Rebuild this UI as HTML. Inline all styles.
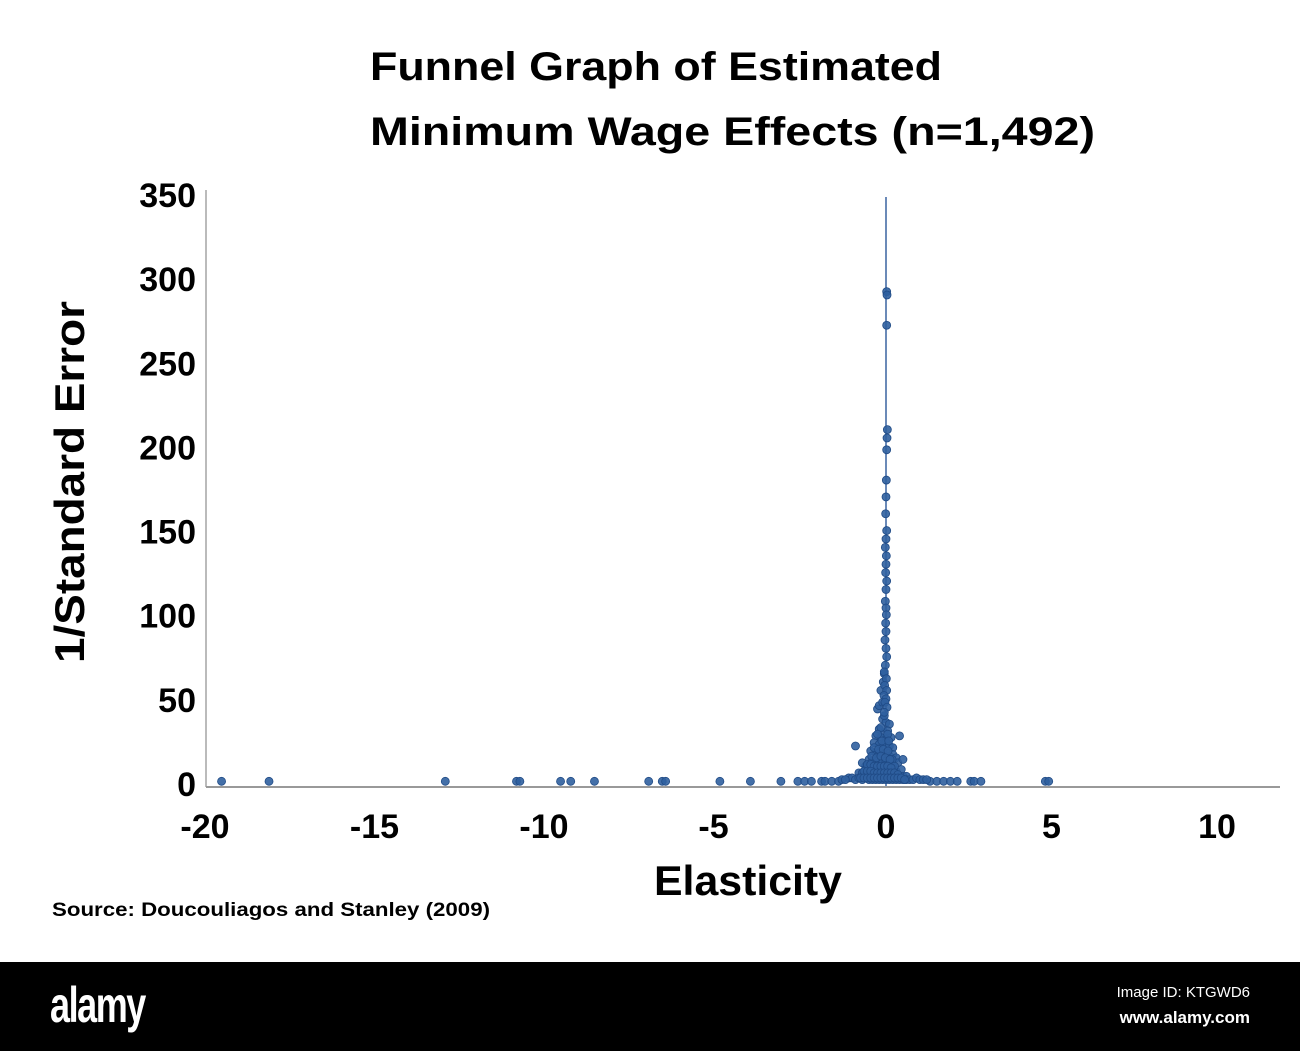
<!DOCTYPE html>
<html><head><meta charset="utf-8"><style>
html,body{margin:0;padding:0;background:#fff}
#wrap{position:relative;width:1300px;height:1051px;overflow:hidden;font-family:"Liberation Sans",sans-serif}
#footer{position:absolute;left:0;top:962px;width:1300px;height:89px;background:#000}
</style></head><body>
<div id="wrap">
<svg id="chart" width="1300" height="962" style="position:absolute;left:0;top:0"></svg>
<div id="footer">
 <div style="position:absolute;left:50px;top:14px;color:#fff;font-size:50px;font-weight:bold;transform:scaleX(0.72);transform-origin:left;letter-spacing:-2px">alamy</div>
 <div style="position:absolute;right:50px;top:22px;color:#fff;font-size:15px">Image ID: KTGWD6</div>
 <div style="position:absolute;right:50px;top:46px;color:#fff;font-size:17px;font-weight:bold">www.alamy.com</div>
</div>
</div>
<script>
const xTicks=[-20,-15,-10,-5,0,5,10];
const yTicks=[0,50,100,150,200,250,300,350];
const tailX=[-19.6,-18.2,-13,-10.9,-10.8,-9.6,-9.3,-8.6,-7,-6.6,-6.5,-4.9,-4,-3.1,-2.6,-2.4,-2.2,-1.9,-1.8,-1.6,-1.4,1.3,1.5,1.7,1.9,2.1,2.5,2.6,2.8,4.7,4.8];
const tailY=[1,1,1,1,1,1,1,1,1,1,1,1,1,1,1,1,1,1,1,1,1,1,1,1,1,1,1,1,1,1,1];
const spineX=[0.02,0.03,0.02,0.04,0.03,0.02,0.01,0.0,-0.01,0.02,0.0,-0.02,0.01,0.0,-0.01,0.02,0.0,-0.02,0.0,0.01,-0.01,0.0,-0.03,0.0,0.02,-0.02,-0.05,0.01,-0.04,0.02,-0.06,0.0,-0.03,0.03,-0.05];
const spineY=[292,290,272,210,205,198,180,170,160,150,145,140,135,130,125,120,115,108,104,100,95,90,85,80,75,70,66,62,58,55,52,50,48,45,42];
const blobX=[-0.1,0.0,0.1,-0.2,-0.05,0.05,-0.3,-0.15,0.0,0.15,-0.35,-0.2,-0.1,0.0,0.1,0.2,-0.45,-0.3,-0.2,-0.1,0.0,0.1,0.2,0.3,-0.5,-0.4,-0.3,-0.2,-0.1,0.0,0.1,0.2,0.35,-0.6,-0.5,-0.4,-0.3,-0.2,-0.1,0.0,0.1,0.2,0.3,0.45,-0.8,-0.7,-0.6,-0.5,-0.4,-0.3,-0.2,-0.1,0.0,0.1,0.2,0.3,0.4,0.5,0.6,-1.1,-1.0,-0.9,-0.8,-0.7,-0.6,-0.5,-0.4,-0.3,-0.2,-0.1,0.0,0.1,0.2,0.3,0.4,0.5,0.6,0.7,0.8,0.9,1.0,-0.9,0.4,-0.25,-0.7,0.5,-1.3,-1.2,1.1,1.2];
const blobY=[38,36,35,32,30,31,28,27,26,27,24,23,22,24,22,21,19,18,18,17,18,16,17,15,14,13,13,12,12,13,12,11,12,10,9,9,8,9,8,9,8,8,7,8,6,6,5,6,5,5,4,5,4,5,4,5,4,4,4,3,3,2,3,2,3,2,2,2,2,2,2,2,2,2,2,2,2,2,2,3,2,22,28,44,12,14,2,2,2,2];
const blob2X=[-0.15,-0.05,0.05,-0.25,-0.12,0.08,-0.35,-0.22,-0.08,0.06,0.18,-0.42,-0.28,-0.15,-0.02,0.12,0.25,-0.55,-0.45,-0.35,-0.25,-0.15,-0.05,0.05,0.15,0.25,-0.65,-0.55,-0.45,-0.35,-0.25,-0.15,-0.05,0.05,0.15,0.25,0.35,-0.75,-0.65,-0.55,-0.45,-0.35,-0.25,-0.15,-0.05,0.05,0.15,0.25,0.35,0.45,0.55,-0.2,-0.1,-0.15,-0.08,-0.05];
const blob2Y=[33,40,29,29,25,25,21,20,20,19,14,16,15,16,15,14,10,11,11,10,10,10,10,10,9,6,7,7,7,6,6,6,6,6,6,6,5,3,3,3,3,3,3,3,3,3,3,3,3,3,2,46,48,55,60,65];
const NS='http://www.w3.org/2000/svg';
const svg=document.getElementById('chart');
const X0=208,X1=886,Y0=786,Y1=197;
function sx(v){return X1+(v)*(X1-X0)/20;}
function sy(v){return Y0-(v)*(Y0-Y1)/350;}
function mk(t,a,p){const e=document.createElementNS(NS,t);for(const k in a)e.setAttribute(k,a[k]);(p||svg).appendChild(e);return e;}
function txt(s,x,y,sz,anchor,extra){const e=mk('text',Object.assign({x:x,y:y,'font-size':sz,'font-weight':'bold','text-anchor':anchor||'start','font-family':'Liberation Sans, sans-serif',fill:'#000'},extra||{}));e.textContent=s;return e;}
let t;
t=txt('Funnel Graph of Estimated',370,80,40,'start',{textLength:572,lengthAdjust:'spacingAndGlyphs'});

t=txt('Minimum Wage Effects  (n=1,492)',370,145,40,'start',{textLength:725,lengthAdjust:'spacingAndGlyphs'});

let a=mk('line',{x1:206,y1:190,x2:206,y2:787,stroke:'#bbb','stroke-width':2});

a=mk('line',{x1:206,y1:787,x2:1280,y2:787,stroke:'#999','stroke-width':2});

a=mk('line',{x1:sx(0),y1:Y1,x2:sx(0),y2:Y0,stroke:'#3a63a0','stroke-width':1.5});

xTicks.forEach(v=>{const e=txt(String(v),sx(v)+(v<0?-3:0)+(v>0?-4*v/5:0),838,34,'middle');
});
yTicks.forEach(v=>{const e=txt(String(v),196,sy(v)+10,34,'end');
});
t=txt('Elasticity',748,895,42,'middle',{textLength:188,lengthAdjust:'spacingAndGlyphs'});

t=txt('1/Standard Error',0,0,42,'middle',{transform:'translate(84,482) rotate(-90)',textLength:362,lengthAdjust:'spacingAndGlyphs'});

t=txt('Source: Doucouliagos and Stanley (2009)',52,916,19,'start',{textLength:438,lengthAdjust:'spacingAndGlyphs'});

const g=mk('g',{fill:'#2f5f9f',stroke:'#1f4a85','stroke-width':0.8,'fill-opacity':0.9});

function plot(xs,ys){xs.forEach((v,i)=>{const c=mk('circle',{cx:sx(v),cy:sy(ys[i])-3,r:4},g);
});}
plot(tailX,tailY);plot(blobX,blobY);plot(blob2X,blob2Y);plot(spineX,spineY);
</script>
</body></html>
